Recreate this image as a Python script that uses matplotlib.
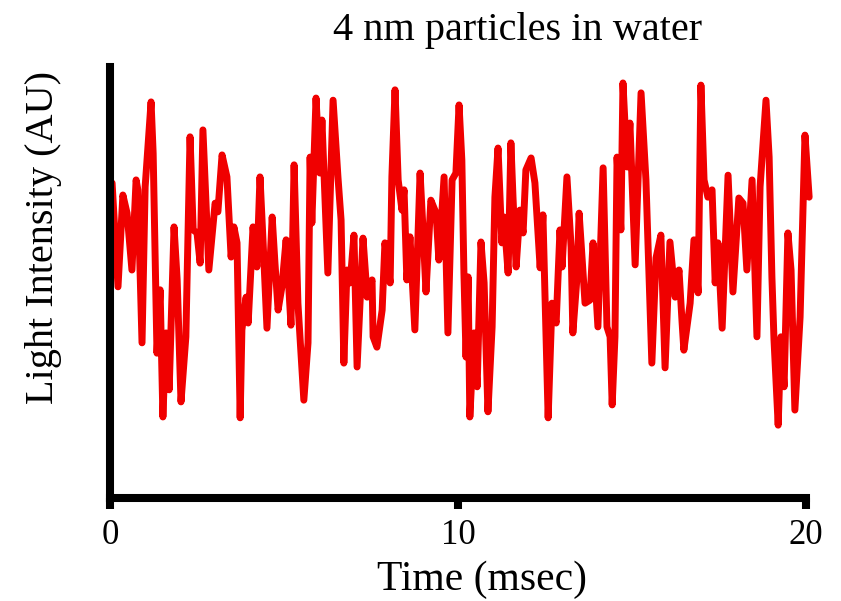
import matplotlib
matplotlib.use("Agg")
import matplotlib.pyplot as plt

plt.rcParams['font.family'] = ['Liberation Serif', 'DejaVu Serif']

# trace: time in msec, intensity in arbitrary units (0-100)
time_ms = [
    0.06, 0.23, 0.37, 0.49, 0.63, 0.75, 0.80, 0.92, 1.01, 1.18,
    1.24, 1.35, 1.44, 1.52, 1.61, 1.70, 1.84, 1.93, 2.04, 2.18,
    2.30, 2.39, 2.50, 2.59, 2.67, 2.84, 3.02, 3.10, 3.22, 3.36,
    3.48, 3.56, 3.65, 3.74, 3.79, 3.91, 3.97, 4.11, 4.22, 4.31,
    4.40, 4.51, 4.66, 4.74, 4.83, 4.94, 5.06, 5.20, 5.29, 5.40,
    5.57, 5.69, 5.75, 5.80, 5.92, 6.03, 6.09, 6.26, 6.41, 6.55,
    6.64, 6.72, 6.81, 6.90, 7.01, 7.10, 7.27, 7.39, 7.53, 7.56,
    7.67, 7.82, 7.90, 8.05, 8.10, 8.19, 8.28, 8.39, 8.45, 8.53,
    8.62, 8.76, 8.91, 8.99, 9.08, 9.22, 9.37, 9.45, 9.60, 9.71,
    9.83, 9.94, 10.03, 10.11, 10.17, 10.23, 10.29, 10.34, 10.46, 10.55,
    10.66, 10.75, 10.86, 10.98, 11.06, 11.15, 11.26, 11.32, 11.44, 11.52,
    11.58, 11.67, 11.78, 11.87, 11.95, 12.10, 12.21, 12.36, 12.44, 12.59,
    12.70, 12.82, 12.93, 12.99, 13.13, 13.25, 13.30, 13.42, 13.48, 13.65,
    13.79, 13.88, 14.02, 14.17, 14.28, 14.37, 14.43, 14.51, 14.57, 14.68,
    14.74, 14.86, 14.94, 15.09, 15.26, 15.40, 15.57, 15.69, 15.83, 15.95,
    16.09, 16.24, 16.35, 16.44, 16.49, 16.67, 16.78, 16.90, 16.98, 17.07,
    17.18, 17.30, 17.39, 17.47, 17.59, 17.76, 17.90, 18.07, 18.19, 18.30,
    18.45, 18.59, 18.68, 18.85, 18.94, 19.02, 19.08, 19.20, 19.28, 19.37,
    19.48, 19.57, 19.68, 19.83, 19.97, 20.09,
]
intensity = [
    73.1, 49.0, 70.3, 66.1, 52.9, 73.8, 71.5, 36.0, 72.2, 91.9,
    80.0, 33.6, 48.3, 18.8, 38.3, 25.1, 62.9, 50.6, 22.3, 37.4,
    83.8, 62.2, 61.5, 54.5, 85.4, 52.9, 68.4, 66.4, 79.6, 74.5,
    55.9, 62.9, 59.2, 18.6, 39.0, 46.6, 40.6, 62.9, 53.6, 74.5,
    59.2, 39.4, 65.2, 54.5, 43.6, 49.0, 59.9, 40.1, 77.3, 45.2,
    22.7, 36.0, 79.1, 63.8, 92.8, 75.4, 87.7, 52.2, 92.3, 74.5,
    64.5, 31.3, 52.9, 49.9, 61.0, 30.4, 60.3, 46.6, 50.6, 37.4,
    35.0, 43.6, 59.2, 49.9, 74.5, 94.7, 73.8, 66.8, 71.5, 50.6,
    60.6, 39.0, 75.4, 62.9, 47.8, 69.1, 66.1, 55.2, 74.5, 38.3,
    73.8, 75.4, 91.2, 78.4, 52.2, 32.7, 51.3, 18.8, 38.3, 25.8,
    59.4, 49.9, 20.0, 39.7, 69.8, 81.2, 59.2, 65.2, 52.2, 82.4,
    69.8, 53.6, 66.8, 61.5, 76.1, 78.9, 73.1, 53.4, 65.7, 18.6,
    45.2, 40.6, 62.2, 53.6, 74.5, 58.2, 38.3, 51.3, 66.1, 45.2,
    45.9, 59.2, 39.7, 76.6, 39.7, 37.4, 21.6, 37.4, 79.1, 62.2,
    96.3, 76.8, 87.0, 54.1, 94.0, 73.8, 31.3, 55.7, 61.0, 30.2,
    59.4, 46.6, 52.9, 40.6, 34.3, 45.2, 59.9, 47.6, 95.8, 73.8,
    69.8, 71.5, 49.9, 59.2, 39.4, 74.9, 47.8, 69.6, 68.4, 52.9,
    73.8, 37.4, 72.2, 92.3, 79.1, 51.3, 36.7, 16.9, 37.4, 25.8,
    61.5, 52.9, 20.4, 42.0, 84.2, 69.8,
]
x_ticks = [0, 10, 20]

fig = plt.figure(figsize=(8.41, 6.01), dpi=100)
ax = fig.add_axes([0.1308, 0.1714, 0.8276, 0.7171])

ax.plot(time_ms, intensity, color='#f00000', linewidth=5.0,
        solid_joinstyle='round', solid_capstyle='round',
        clip_on=False, zorder=1)

ax.set_xlim(0, 20)
ax.set_ylim(0, 100)

for side in ('top', 'right'):
    ax.spines[side].set_visible(False)
for side in ('left', 'bottom'):
    ax.spines[side].set_linewidth(5.8)
    ax.spines[side].set_color('black')
    ax.spines[side].set_zorder(3)

ax.set_xticks(x_ticks)
ax.set_xticklabels([str(t) for t in x_ticks])
ax.set_yticks([])
ax.tick_params(axis='x', direction='out', length=8, width=5.8,
               labelsize=25, pad=7, color='black')

fig.text(0.616, 0.950, '4 nm particles in water', fontsize=29,
         ha='center', va='center')
fig.text(0.573, 0.035, 'Time (msec)', fontsize=30, ha='center', va='center')
fig.text(0.052, 0.604, 'Light Intensity (AU)', fontsize=29,
         rotation=90, ha='center', va='center')

fig.savefig('out.png', dpi=100)
